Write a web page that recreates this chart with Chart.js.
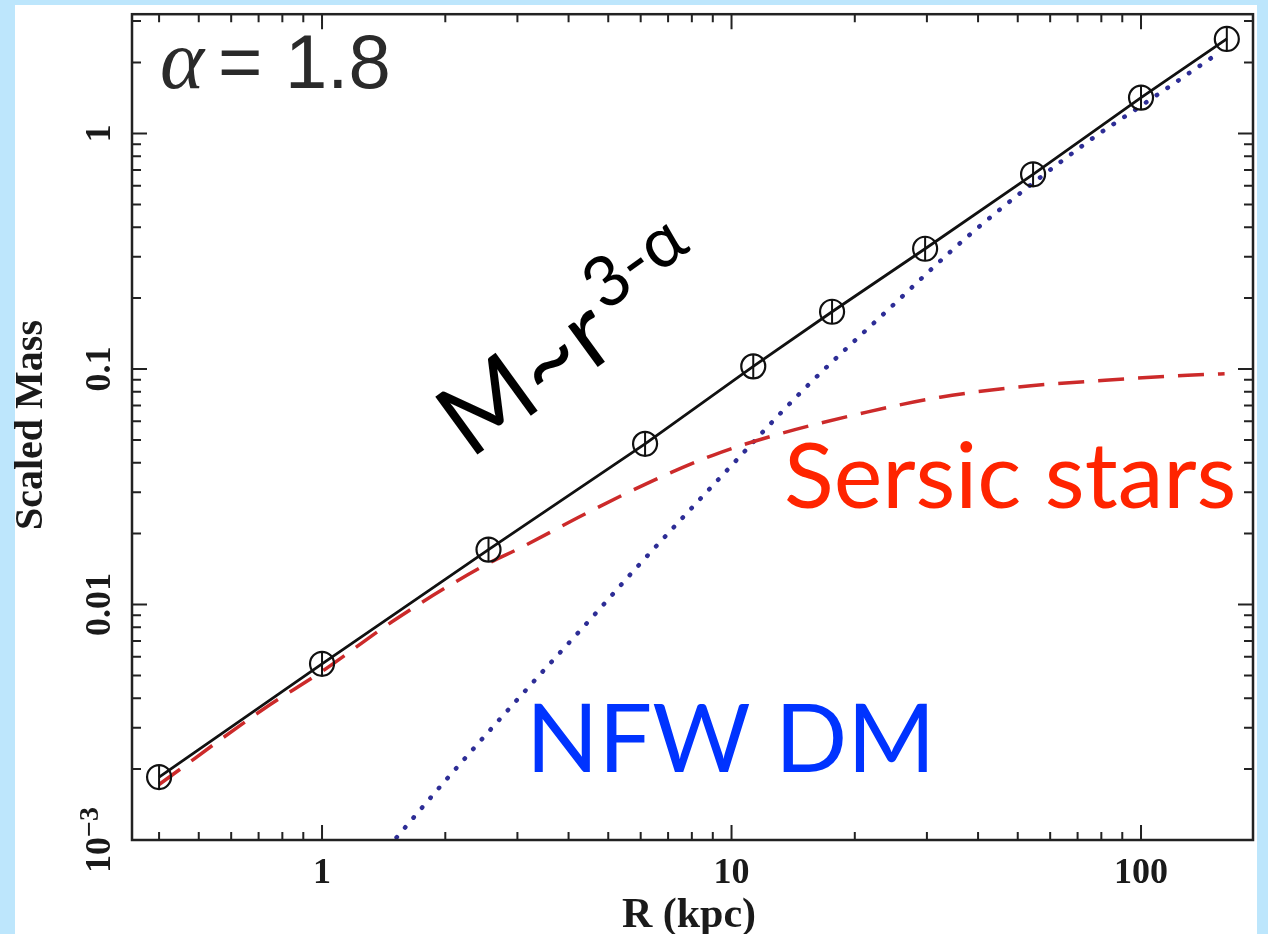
<!DOCTYPE html>
<html>
<head>
<meta charset="utf-8">
<title>Scaled Mass vs R</title>
<script src="https://cdn.jsdelivr.net/npm/chart.js@4.4.1/dist/chart.umd.min.js"></script>
<style>
  html, body { margin: 0; padding: 0; }
  body { width: 1268px; height: 934px; background: #bde6fc; position: relative; overflow: hidden; }
  #paper { position: absolute; left: 15px; top: 5px; width: 1242px; height: 929px; background: #fff; }
  #massChart { position: absolute; left: 0; top: 0; }
</style>
</head>
<body>
<div id="paper"></div>
<canvas id="massChart" width="1268" height="934"></canvas>
<script>
// total mass profile (open circles joined by the solid line)
const totalR = [0.40, 1.0, 2.55, 6.15, 11.3, 17.6, 29.7, 54.5, 100, 162];
const totalMass = [0.00185, 0.0056, 0.0171, 0.0481, 0.1026, 0.175, 0.324, 0.671, 1.42, 2.52];

// Sersic stars (red dashes)
const sersicR = [0.40, 0.72, 1.0, 1.52, 2.5, 3.05, 4.4, 6.3, 9.0, 12.6, 21.4, 32.3, 50, 81.7, 130, 160];
const sersicMass = [0.00172, 0.0036, 0.0052, 0.0087, 0.0147, 0.0174, 0.0243, 0.0330, 0.0430, 0.0520, 0.0656, 0.0759, 0.0838, 0.0896, 0.094, 0.0955];

// NFW dark matter (blue dots)
const nfwR = [1.45, 1.94, 3.0, 4.64, 5.81, 9.53, 14.95, 24.0, 38.6, 74.3, 100, 156];
const nfwMass = [0.00093, 0.00168, 0.00395, 0.0091, 0.0141, 0.0356, 0.0813, 0.177, 0.378, 0.925, 1.31, 2.22];

// axes
const xMajorTicks = [1, 10, 100];
const xTickLabels = ['1', '10', '100'];
const xMinorTicks = [0.4, 0.5, 0.6, 0.7, 0.8, 0.9, 2, 3, 4, 5, 6, 7, 8, 9, 20, 30, 40, 50, 60, 70, 80, 90];
const yMajorTicks = [0.001, 0.01, 0.1, 1];
const yTickLabels = ['10^-3', '0.01', '0.1', '1'];
const yMinorTicks = [0.002, 0.003, 0.004, 0.005, 0.006, 0.007, 0.008, 0.009,
                     0.02, 0.03, 0.04, 0.05, 0.06, 0.07, 0.08, 0.09,
                     0.2, 0.3, 0.4, 0.5, 0.6, 0.7, 0.8, 0.9, 2, 3];

const xTitle = 'R (kpc)';
const yTitle = 'Scaled Mass';

function toPoints(xs, ys) {
    return xs.map((v, i) => ({ x: v, y: ys[i] }));
}

// box around the plot with ticks pointing inwards on all four sides
const frameAndTicks = {
    id: 'frameAndTicks',
    afterDatasetsDraw(chart) {
        const { ctx, chartArea: a, scales: { x, y } } = chart;
        ctx.save();
        ctx.strokeStyle = '#222';
        ctx.lineWidth = 2;
        ctx.beginPath();
        const xTick = (v, len) => {
            const px = x.getPixelForValue(v);
            ctx.moveTo(px, a.bottom); ctx.lineTo(px, a.bottom - len);
            ctx.moveTo(px, a.top); ctx.lineTo(px, a.top + len);
        };
        const yTick = (v, len) => {
            const py = y.getPixelForValue(v);
            ctx.moveTo(a.left, py); ctx.lineTo(a.left + len, py);
            ctx.moveTo(a.right, py); ctx.lineTo(a.right - len, py);
        };
        xMajorTicks.forEach(v => xTick(v, 15));
        xMinorTicks.forEach(v => xTick(v, 8));
        yMajorTicks.forEach(v => yTick(v, 15));
        yMinorTicks.forEach(v => yTick(v, 9));
        ctx.stroke();
        ctx.lineWidth = 2.5;
        ctx.strokeRect(a.left, a.top, a.right - a.left, a.bottom - a.top);
        ctx.restore();
    }
};

// rotated y tick labels, axis titles and the text notes inside the plot
const labelsAndNotes = {
    id: 'labelsAndNotes',
    afterDraw(chart) {
        const { ctx, chartArea: a, scales: { y } } = chart;
        ctx.save();
        ctx.fillStyle = '#1a1a1a';
        ctx.textBaseline = 'alphabetic';

        // y tick labels, reading bottom to top
        yMajorTicks.forEach((v, i) => {
            const parts = yTickLabels[i].split('^');
            const sup = parts[1] ? parts[1].replace('-', '\u2212') : '';
            ctx.save();
            ctx.translate(a.left - 22, y.getPixelForValue(v));
            ctx.rotate(-Math.PI / 2);
            ctx.font = 'bold 36px "Liberation Serif"';
            const w1 = ctx.measureText(parts[0]).width;
            ctx.font = 'bold 28px "Liberation Serif"';
            const w2 = sup ? ctx.measureText(sup).width : 0;
            const start = -(w1 + w2) / 2;
            ctx.textAlign = 'left';
            ctx.font = 'bold 36px "Liberation Serif"';
            ctx.fillText(parts[0], start, 0);
            if (sup) {
                ctx.font = 'bold 28px "Liberation Serif"';
                ctx.fillText(sup, start + w1, -12);
            }
            ctx.restore();
        });

        // axis titles
        ctx.font = 'bold 42px "Liberation Serif"';
        ctx.textAlign = 'center';
        ctx.fillText(xTitle, 689, 927);
        ctx.save();
        ctx.font = 'bold 40px "Liberation Serif"';
        ctx.translate(42, 425);
        ctx.rotate(-Math.PI / 2);
        ctx.fillText(yTitle, 0, 0);
        ctx.restore();

        // alpha = 1.8
        ctx.textAlign = 'left';
        ctx.fillStyle = '#2a2a2a';
        ctx.font = 'italic 84px "Liberation Serif"';
        ctx.fillText('\u03b1', 160, 88);
        ctx.font = '76px "Liberation Sans"';
        ctx.fillText('=', 218, 88);
        ctx.fillText('1.8', 285, 88);

        // M ~ r^(3-alpha), along the power law
        ctx.save();
        ctx.fillStyle = '#000';
        ctx.translate(470, 460);
        ctx.rotate(-36 * Math.PI / 180);
        ctx.font = '100px Lato';
        ctx.fillText('M~r', 0, 0);
        const wm = ctx.measureText('M~r').width;
        ctx.font = '70px Lato';
        ctx.fillText('3-\u03b1', wm + 8, -40);
        ctx.restore();

        ctx.font = '92px Lato';
        ctx.fillStyle = 'rgb(255, 36, 0)';
        ctx.fillText('Sersic stars', 784, 508);

        ctx.font = '95px Lato';
        ctx.fillStyle = 'rgb(0, 51, 255)';
        ctx.fillText('NFW DM', 526, 772);
        ctx.restore();
    }
};

const ctx = document.getElementById('massChart').getContext('2d');
new Chart(ctx, {
    type: 'scatter',
    data: {
        datasets: [
            {
                label: 'Total',
                data: toPoints(totalR, totalMass),
                showLine: true,
                borderColor: '#111',
                borderWidth: 2.8,
                pointStyle: 'circle',
                pointRadius: 12,
                pointBorderWidth: 2.2,
                pointBorderColor: '#111',
                pointBackgroundColor: 'rgba(0,0,0,0)'
            },
            {
                label: 'Error bars',
                data: toPoints(totalR, totalMass),
                showLine: false,
                pointStyle: 'line',
                pointRotation: 90,
                pointRadius: 12,
                pointBorderWidth: 2,
                pointBorderColor: '#111'
            },
            {
                label: 'Sersic stars',
                data: toPoints(sersicR, sersicMass),
                showLine: true,
                borderColor: 'rgb(204, 42, 42)',
                borderWidth: 3.5,
                borderDash: [26, 14],
                cubicInterpolationMode: 'monotone',
                pointRadius: 0
            },
            {
                label: 'NFW DM',
                data: toPoints(nfwR, nfwMass),
                showLine: true,
                borderColor: 'rgb(45, 45, 150)',
                borderWidth: 4.5,
                borderDash: [0.5, 12.5],
                borderCapStyle: 'round',
                cubicInterpolationMode: 'monotone',
                pointRadius: 0
            }
        ]
    },
    options: {
        responsive: false,
        animation: false,
        events: [],
        layout: { padding: { left: 0, right: 15, top: 10, bottom: 0 } },
        plugins: {
            legend: { display: false },
            tooltip: { enabled: false }
        },
        scales: {
            x: {
                type: 'logarithmic',
                bounds: 'data',
                min: 0.3435,
                max: 187.7,
                grid: { display: false, drawTicks: false },
                border: { display: false },
                afterBuildTicks(scale) {
                    scale.ticks = xMajorTicks.map(v => ({ value: v, major: true }));
                },
                afterFit(scale) { scale.height = 94; },
                ticks: {
                    autoSkip: false,
                    maxRotation: 0,
                    padding: 12,
                    color: '#1a1a1a',
                    font: { family: '"Liberation Serif"', size: 36, weight: 'bold' },
                    callback(value) {
                        const i = xMajorTicks.indexOf(value);
                        return i >= 0 ? xTickLabels[i] : '';
                    }
                }
            },
            y: {
                type: 'logarithmic',
                bounds: 'data',
                min: 0.001,
                max: 3.21,
                grid: { display: false, drawTicks: false },
                border: { display: false },
                ticks: { display: false },
                afterFit(scale) { scale.width = 132; }
            }
        }
    },
    plugins: [frameAndTicks, labelsAndNotes]
});
</script>
</body>
</html>
